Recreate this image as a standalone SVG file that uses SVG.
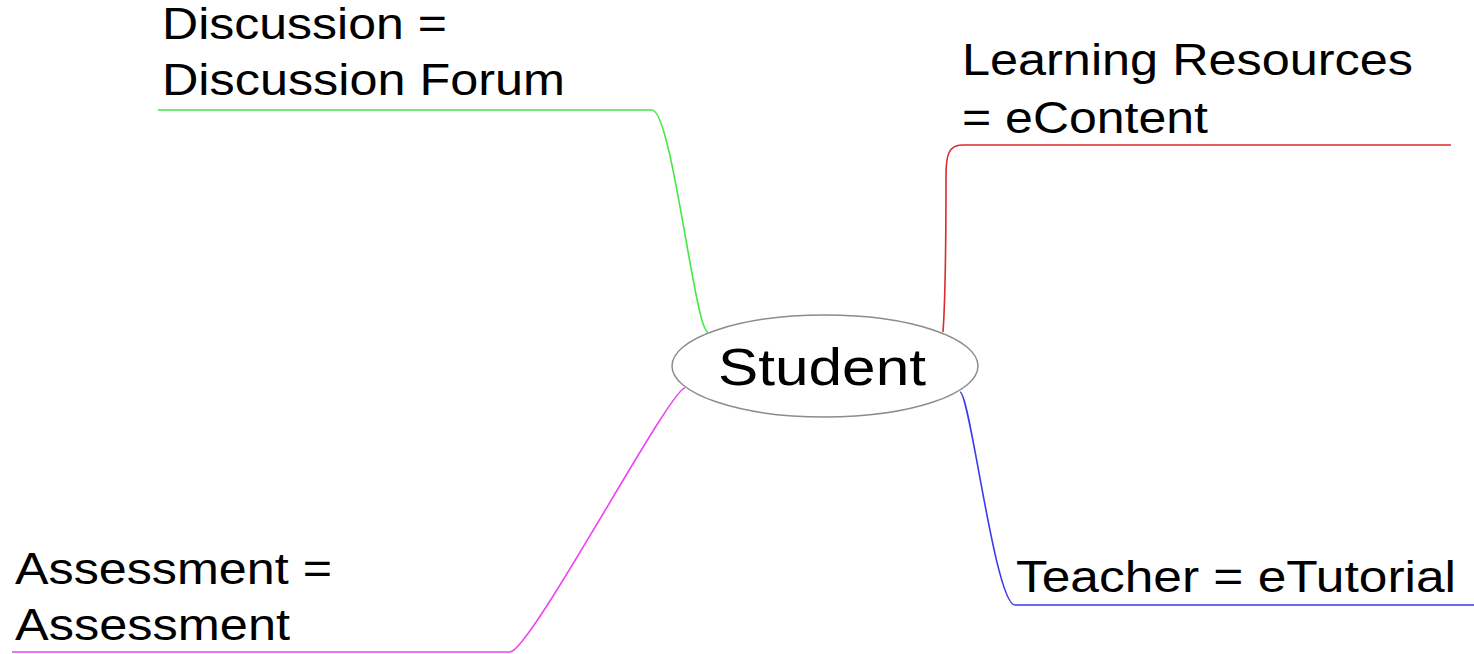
<svg xmlns="http://www.w3.org/2000/svg" width="1474" height="654" viewBox="0 0 1474 654">
<style>
  text { font-family: "Liberation Sans", Arial, sans-serif; fill: #000; }
  .lbl { font-size: 44px; }
  .root { font-size: 52px; }
  .conn { fill: none; stroke-width: 1.6; }
</style>
<rect width="1474" height="654" fill="#fff"/>
<g id="connectors">
  <path class="conn" stroke="#44e844" d="M158,110 L652,110 C672,110 695,332 708,332"/>
  <path class="conn" stroke="#dd2a2a" d="M943,332 C946,290 946,200 946,175 C946,155 949,145 962,145 L1451,145"/>
  <path class="conn" stroke="#3a3aee" d="M960,392 C970,392 995,605 1015,605 L1474,605"/>
  <path class="conn" stroke="#ee44ee" d="M685,388 C670,388 530,652 510,652 L12,652"/>
</g>
<g id="node-student">
  <ellipse cx="825" cy="366" rx="153" ry="51" fill="#fff" stroke="#8c8c8c" stroke-width="1.5"/>
  <text class="root" x="718" y="385" textLength="208" lengthAdjust="spacingAndGlyphs">Student</text>
</g>
<g id="node-discussion">
  <text class="lbl" x="162" y="39" textLength="285" lengthAdjust="spacingAndGlyphs">Discussion =</text>
  <text class="lbl" x="162" y="95" textLength="403" lengthAdjust="spacingAndGlyphs">Discussion Forum</text>
</g>
<g id="node-learning">
  <text class="lbl" x="962" y="75" textLength="451" lengthAdjust="spacingAndGlyphs">Learning Resources</text>
  <text class="lbl" x="962" y="133" textLength="246" lengthAdjust="spacingAndGlyphs">= eContent</text>
</g>
<g id="node-assessment">
  <text class="lbl" x="15" y="584" textLength="317" lengthAdjust="spacingAndGlyphs">Assessment =</text>
  <text class="lbl" x="15" y="640" textLength="275" lengthAdjust="spacingAndGlyphs">Assessment</text>
</g>
<g id="node-teacher">
  <text class="lbl" x="1016" y="592" textLength="440" lengthAdjust="spacingAndGlyphs">Teacher = eTutorial</text>
</g>
</svg>
